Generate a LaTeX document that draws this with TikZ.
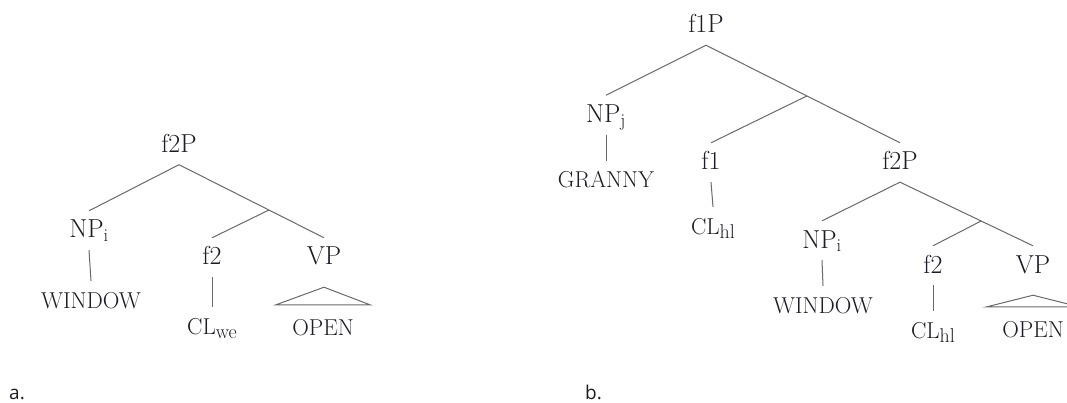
\documentclass[tikz,border=0pt]{standalone}
\usepackage{fontspec}
\usetikzlibrary{calc}
\newfontfamily\tagfont{Open Sans}
\definecolor{ink}{RGB}{28,28,38}
\definecolor{edge}{RGB}{105,105,105}
\begin{document}
\begin{tikzpicture}[x=1pt,y=-1pt,
  lab/.style={anchor=base, inner xsep=0pt, inner ysep=12pt, text height=15pt, text depth=0pt,
              font=\fontsize{26}{30}\selectfont, text=ink},
  leaf/.style={lab, font=\fontsize{23}{27}\selectfont},
  tag/.style={anchor=base west, inner sep=0pt, font=\tagfont\fontsize{19}{22}\selectfont, text=ink},
  branch/.style={draw=edge, line width=1pt},
]
\useasboundingbox (0,0) rectangle (1067,403);
\newcommand{\subtxt}[1]{\raisebox{-4.5pt}{\fontsize{20}{20}\selectfont #1}}
% ---------- tree a ----------
\node[lab]  (f2Pa) at (179,152.5) {f2P};
\node[lab]  (NPia) at (89,238)    {NP$_{\mathrm{i}}$};
\node[lab]  (f2a)  at (212,265)   {f2};
\node[lab]  (VPa)  at (324,265)   {VP};
\node[leaf] (WINa) at (91,308)    {WINDOW};
\node[leaf] (CLa)  at (212,334)   {CL\subtxt{we}};
\node[leaf] (OPa)  at (323,335)   {OPEN};
\coordinate (ja) at ($(f2Pa.south)!0.62!(VPa.north)$);
\draw[branch] (NPia.north) -- (f2Pa.south) -- (VPa.north);
\draw[branch] (ja) -- (f2a.north);
\draw[branch] (NPia.south) -- (WINa.north);
\draw[branch] (f2a.south) -- (CLa.north);
\draw[branch] ([yshift=-10pt]VPa.south) -- ([xshift=-47pt,yshift=3pt]OPa.north)
              -- ([xshift=47pt,yshift=3pt]OPa.north) -- cycle;
\node[tag] (taga) at (9,399) {a.};
% ---------- tree b ----------
\node[lab]  (f1P)  at (706,33)    {f1P};
\node[lab]  (NPj)  at (606,122.5) {NP$_{\mathrm{j}}$};
\node[lab]  (f1)   at (711,170)   {f1};
\node[lab]  (f2Pb) at (900,170)   {f2P};
\node[leaf] (GRA)  at (606,188)   {GRANNY};
\node[leaf] (CLf1) at (713,234)   {CL\subtxt{hl}};
\node[lab]  (NPib) at (822,248)   {NP$_{\mathrm{i}}$};
\node[lab]  (f2b)  at (933,273)   {f2};
\node[lab]  (VPb)  at (1033,273)  {VP};
\node[leaf] (WINb) at (823,313)   {WINDOW};
\node[leaf] (CLb)  at (933,338)   {CL\subtxt{hl}};
\node[leaf] (OPb)  at (1033,337)  {OPEN};
\coordinate (jb1) at ($(f1P.south)!0.52!(f2Pb.north)$);
\coordinate (jb2) at ($(f2Pb.south)!0.61!(VPb.north)$);
\draw[branch] (NPj.north) -- (f1P.south) -- (f2Pb.north);
\draw[branch] (jb1) -- (f1.north);
\draw[branch] (NPj.south) -- (GRA.north);
\draw[branch] (f1.south) -- (CLf1.north);
\draw[branch] (NPib.north) -- (f2Pb.south) -- (VPb.north);
\draw[branch] (jb2) -- (f2b.north);
\draw[branch] (NPib.south) -- (WINb.north);
\draw[branch] (f2b.south) -- (CLb.north);
\draw[branch] ([yshift=-10pt]VPb.south) -- ([xshift=-46pt,yshift=3pt]OPb.north)
              -- ([xshift=46pt,yshift=3pt]OPb.north) -- cycle;
\node[tag] (tagb) at (585,399) {b.};
\end{tikzpicture}
\end{document}
